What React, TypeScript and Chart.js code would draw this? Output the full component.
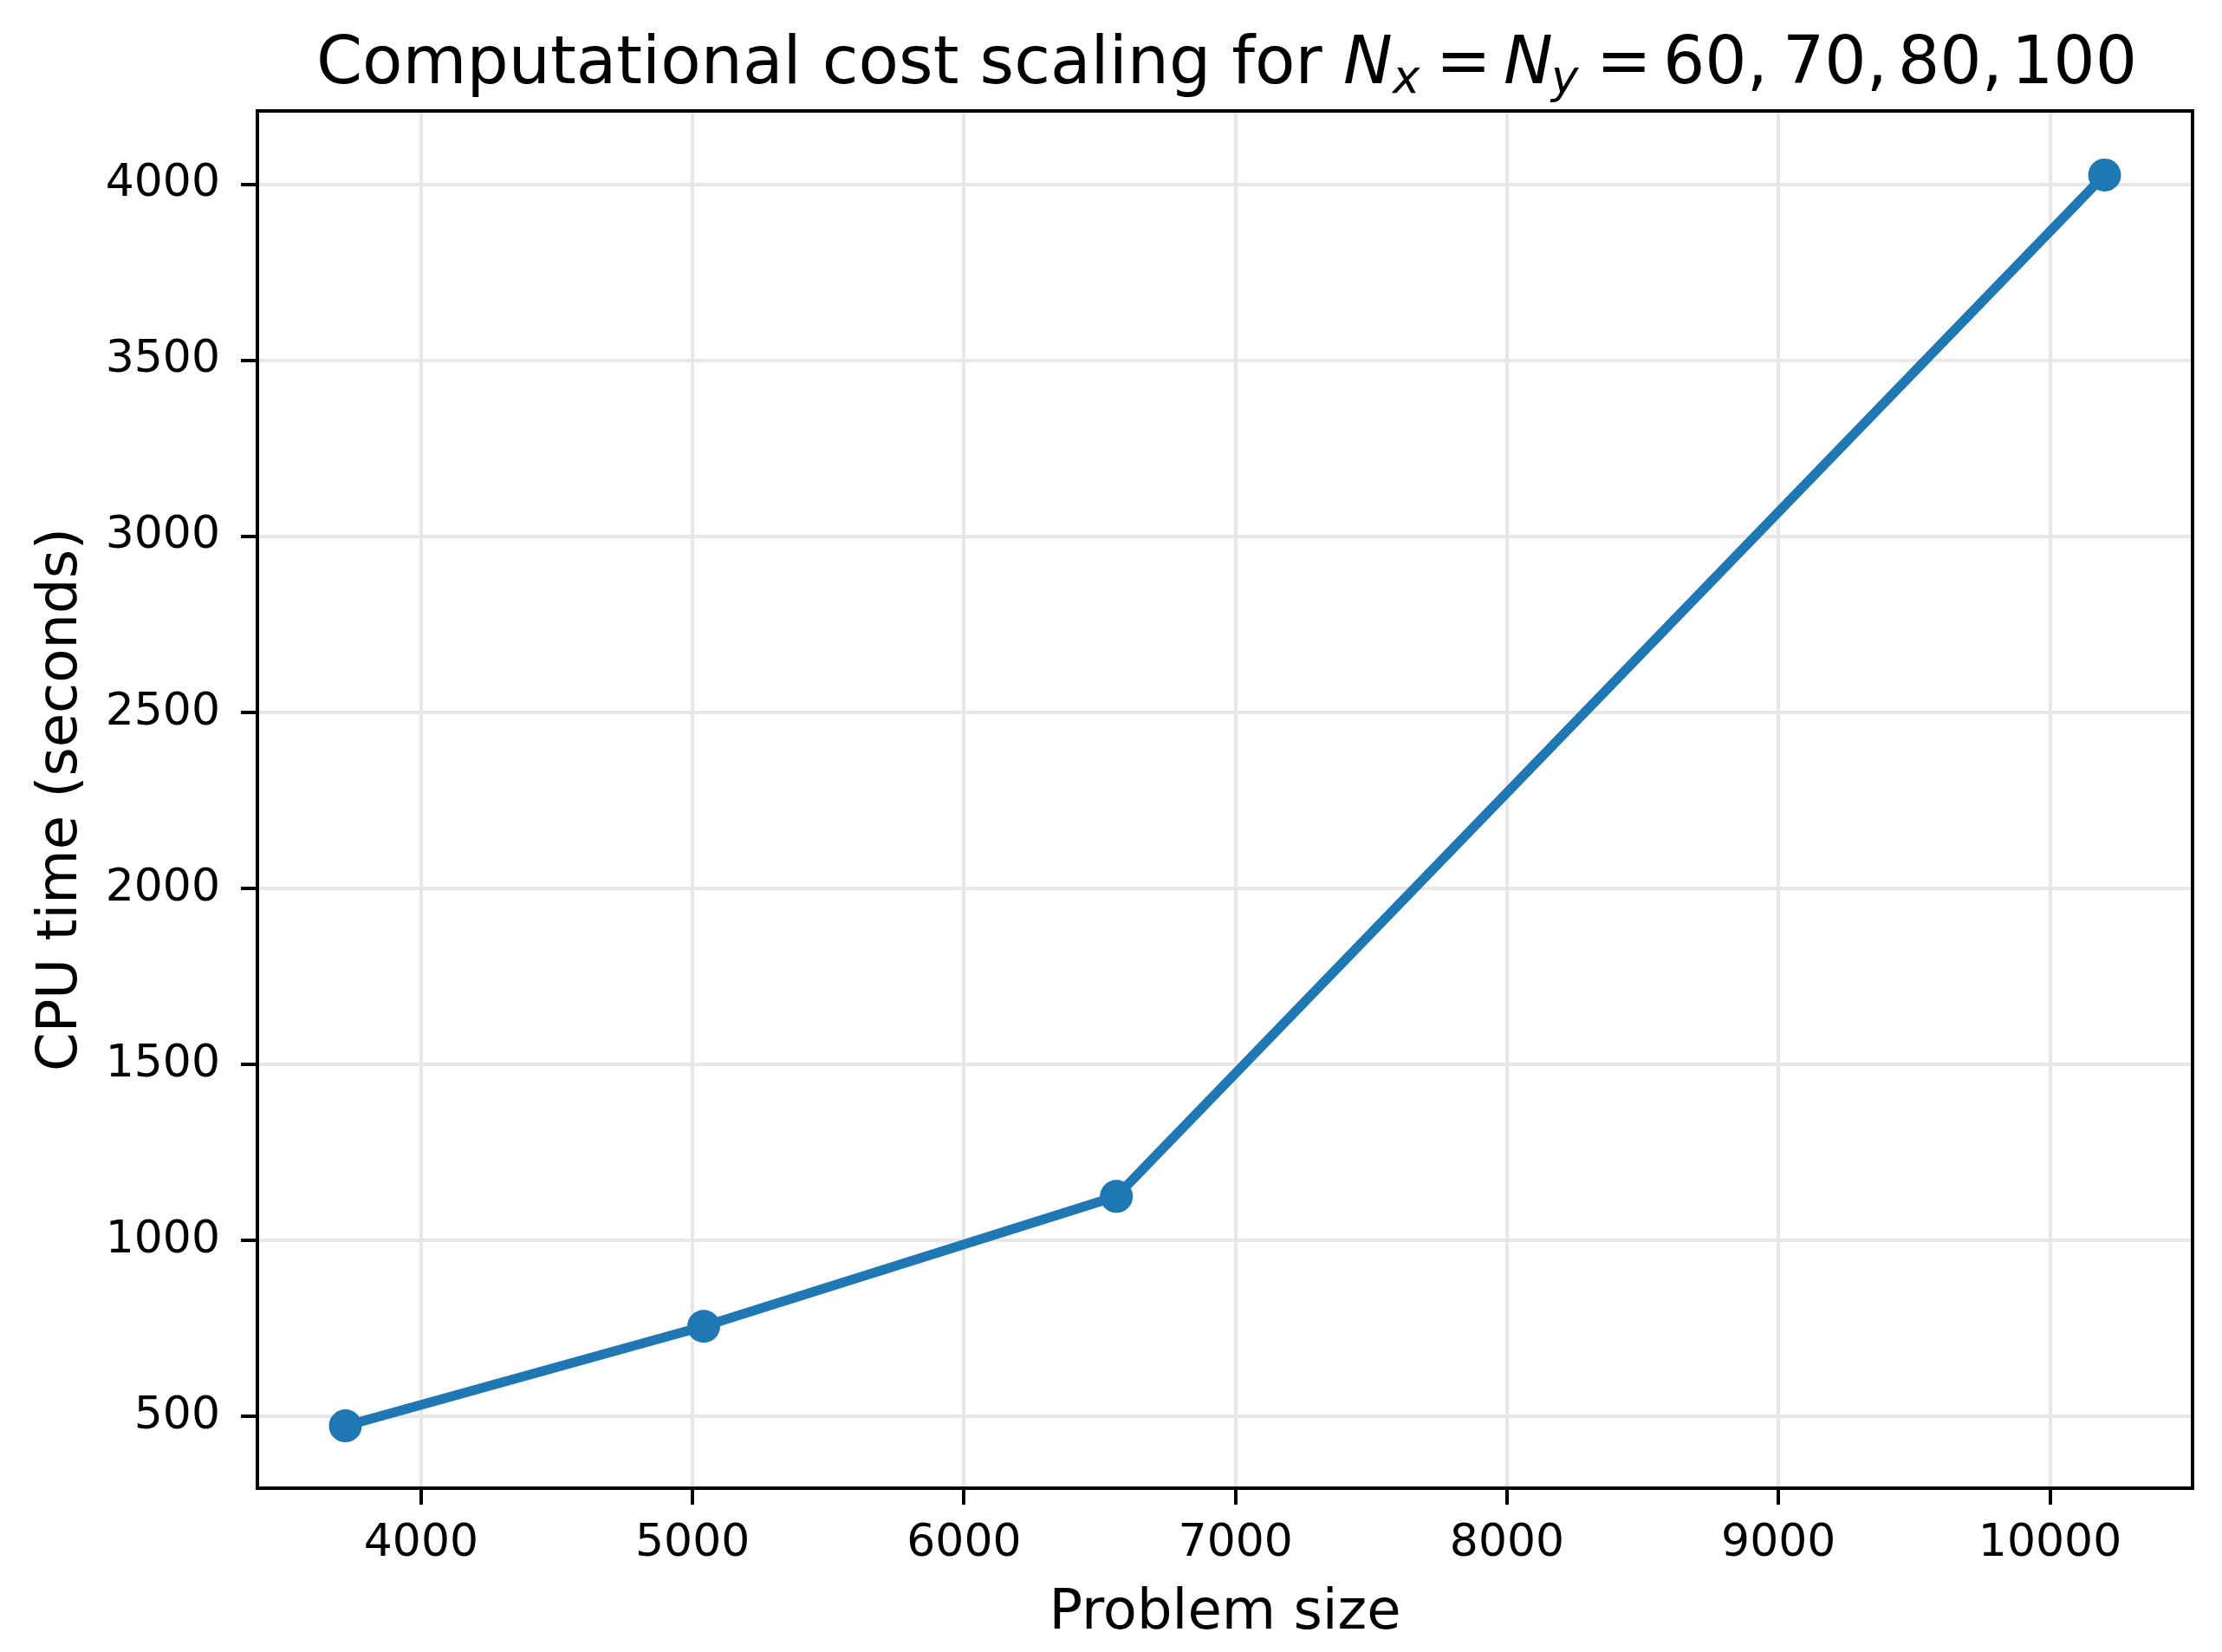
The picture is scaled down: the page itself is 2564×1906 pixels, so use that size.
import React, { useEffect, useRef } from "react";
import { Chart, registerables } from "chart.js";

Chart.register(...registerables);

// Data (problem size = (N+1)^2, CPU time in seconds)
const PROBLEM_SIZE = [3721, 5041, 6561, 10201];
const CPU_TIME = [473, 756, 1125, 4027];
const X_TICKS = [4000, 5000, 6000, 7000, 8000, 9000, 10000];
const Y_TICKS = [500, 1000, 1500, 2000, 2500, 3000, 3500, 4000];
const X_LIMITS = [3397, 10525];
const Y_LIMITS = [296, 4209];
const X_LABEL = "Problem size";
const Y_LABEL = "CPU time (seconds)";
const TITLE_PREFIX = "Computational cost scaling for ";
const GRID_SIZES = ["60", "70", "80", "100"];

const W = 2564;
const H = 1906;
const FONT = "'DejaVu Sans', sans-serif";
const BLUE = "#1f77b4";

const decorPlugin = {
  id: "decor",
  afterDatasetsDraw(chart: any) {
    const { ctx, chartArea } = chart;
    const { left, right, top, bottom } = chartArea;
    ctx.save();
    ctx.strokeStyle = "#000";
    ctx.lineWidth = 4;
    ctx.strokeRect(left, top, right - left, bottom - top);
    ctx.restore();
  },
  afterDraw(chart: any) {
    const { ctx, chartArea } = chart;
    const { left, right, top, bottom } = chartArea;
    const cx = (left + right) / 2;
    const cy = (top + bottom) / 2;
    ctx.save();
    ctx.fillStyle = "#000";
    // axis labels
    ctx.font = `64px ${FONT}`;
    ctx.textAlign = "center";
    ctx.textBaseline = "alphabetic";
    ctx.fillText(X_LABEL, cx, 1879);
    ctx.save();
    ctx.translate(88, cy);
    ctx.rotate(-Math.PI / 2);
    ctx.fillText(Y_LABEL, 0, 0);
    ctx.restore();

    // title: regular prefix + mathtext-like part
    const size = 76;
    const k = size / 76;
    const baseY = 96;
    const sub = Math.round(size * 0.7);
    const subDy = 11 * k;
    ctx.textAlign = "left";
    ctx.font = `${size}px ${FONT}`;
    const wPrefix = ctx.measureText(TITLE_PREFIX).width;
    const wLast = ctx.measureText(GRID_SIZES[GRID_SIZES.length - 1]).width;
    const mathW = 771 * k + wLast;
    const x0 = cx + 2 - (wPrefix + mathW) / 2;
    ctx.fillText(TITLE_PREFIX, x0, baseY);
    const m = x0 + wPrefix;
    const put = (t: string, off: number, font: string, dy = 0) => {
      ctx.font = font;
      ctx.fillText(t, m + off * k, baseY + dy);
    };
    const it = `italic ${size}px ${FONT}`;
    const itSub = `italic ${sub}px ${FONT}`;
    const rm = `${size}px ${FONT}`;
    put("N", 0, it);
    put("x", 57, itSub, subDy);
    put("=", 107, rm);
    put("N", 185, it);
    put("y", 240, itSub, subDy);
    put("=", 292, rm);
    const numOffsets = [369, 507, 640, 771];
    GRID_SIZES.forEach((s, i) => {
      put(i < GRID_SIZES.length - 1 ? s + "," : s, numOffsets[i], rm);
    });
    ctx.restore();
  },
};

export default function App() {
  const ref = useRef<HTMLCanvasElement | null>(null);
  useEffect(() => {
    document.body.style.margin = "0";
    const canvas = ref.current!;
    const chart = new Chart(canvas, {
      type: "scatter",
      data: {
        datasets: [
          {
            data: PROBLEM_SIZE.map((x, i) => ({ x, y: CPU_TIME[i] })),
            showLine: true,
            borderColor: BLUE,
            backgroundColor: BLUE,
            borderWidth: 11,
            pointRadius: 19,
            pointBorderWidth: 0,
            pointBackgroundColor: BLUE,
            pointHoverRadius: 19,
          },
        ],
      },
      options: {
        animation: false,
        responsive: false,
        devicePixelRatio: 1,
        events: [],
        layout: { padding: { top: 128, right: 34, left: 0, bottom: 0 } },
        plugins: {
          legend: { display: false },
          tooltip: { enabled: false },
          title: { display: false },
        },
        scales: {
          x: {
            type: "linear",
            min: X_LIMITS[0],
            max: X_LIMITS[1],
            afterBuildTicks: (scale: any) => {
              scale.ticks = X_TICKS.map((v) => ({ value: v }));
            },
            afterFit: (scale: any) => {
              scale.height = H - 1717;
            },
            ticks: {
              color: "#000",
              font: { family: FONT, size: 52 },
              padding: 14,
              maxRotation: 0,
              autoSkip: false,
              callback: (v: any) => String(v),
            },
            grid: {
              color: "#e7e7e7",
              lineWidth: 4,
              drawTicks: true,
              tickLength: 19,
              tickWidth: 4,
              tickColor: "#000",
            },
            border: { display: false },
          },
          y: {
            type: "linear",
            min: Y_LIMITS[0],
            max: Y_LIMITS[1],
            afterBuildTicks: (scale: any) => {
              scale.ticks = Y_TICKS.map((v) => ({ value: v }));
            },
            afterFit: (scale: any) => {
              scale.width = 297;
            },
            ticks: {
              color: "#000",
              font: { family: FONT, size: 52 },
              padding: 24,
              autoSkip: false,
              callback: (v: any) => String(v),
            },
            grid: {
              color: "#e7e7e7",
              lineWidth: 4,
              drawTicks: true,
              tickLength: 19,
              tickWidth: 4,
              tickColor: "#000",
            },
            border: { display: false },
          },
        },
      },
      plugins: [decorPlugin],
    });
    return () => chart.destroy();
  }, []);
  return (
    <div style={{ position: "absolute", left: 0, top: 0, width: W, height: H, background: "#fff" }}>
      <canvas ref={ref} width={W} height={H} style={{ width: W, height: H, display: "block" }} />
    </div>
  );
}
